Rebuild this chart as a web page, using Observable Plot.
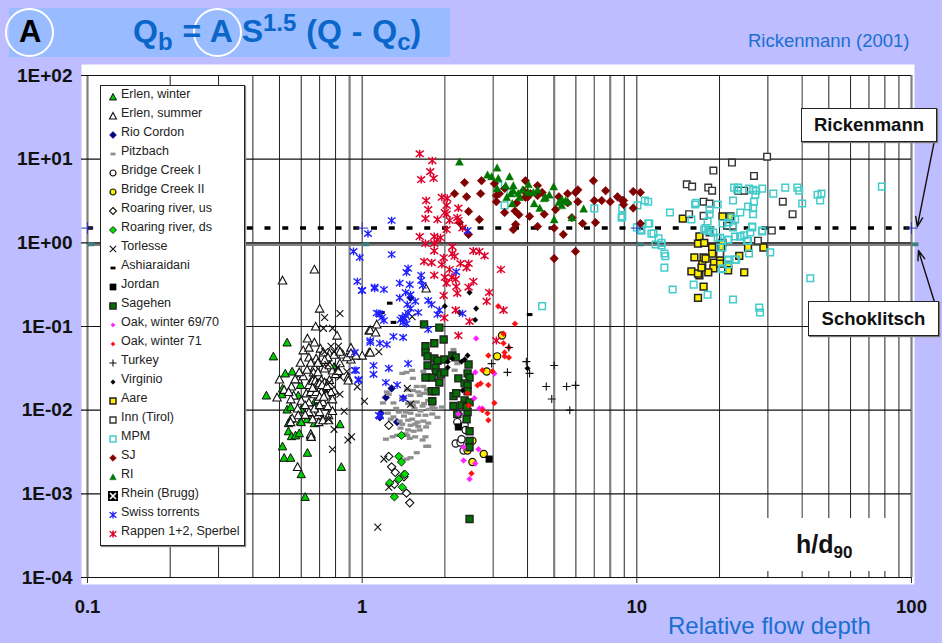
<!DOCTYPE html>
<html><head><meta charset="utf-8">
<script src="https://cdn.jsdelivr.net/npm/d3@7"></script>
<script src="https://cdn.jsdelivr.net/npm/@observablehq/plot@0.6"></script>
<style>
html,body{margin:0;padding:0;background:#BDBDFF;width:942px;height:643px;overflow:hidden;font-family:"Liberation Sans",Arial,sans-serif}
#chart{position:absolute;left:0;top:0}
.abs{position:absolute;white-space:nowrap}
.lbox{background:#fff;border:1px solid #222;box-shadow:1px 1px 1px #777;box-sizing:border-box;text-align:center;font-weight:bold;font-size:18.5px;color:#111}
.ring{position:absolute;border:2px solid #fff;border-radius:50%;box-sizing:border-box}
#legend{position:absolute;left:100px;top:85px;width:145px;height:461px;background:#fff;border:1px solid #222;box-shadow:1px 1px 1px #888;box-sizing:border-box}
.row{position:absolute;left:0;height:19px;line-height:19px;font-size:12.5px;color:#222;white-space:nowrap}
.row svg{position:absolute;left:5px}
.row span{position:absolute;left:20px;top:-1px}
</style></head><body>
<div id="chart"></div>
<script>
const erlenWinter=[[.533,.0645],[.475,.044],[.556,.029],[.525,.0275],[.513,.0182],[.448,.015],[.51,.0155],[.533,.0102],[.549,.0109],[.6,.0102],[.549,.0078],[.539,.007],[.596,.0074],[.539,.0056],[.553,.0049],[.572,.005],[.59,.0053],[.513,.0037],[.52,.0027],[.549,.0027],[.632,.0031],[.83,.0068],[.84,.0021],[.6,.00172],[.62,.00092],[.723,.0124],[.67,.007],[.71,.0082],[.67,.0124],[.69,.0209],[.596,.02],[.79,.033],[.695,.0182],[.585,.015],[.68,.019],[.7,.0225],[.72,.0175],[.66,.0165],[.63,.0078],[.6,.0072]];
const erlenSummer=[[.67,.48],[.513,.355],[.7,.164],[.677,.1],[.632,.072],[.67,.0645],[.61,.052],[.64,.056],[.705,.0545],[.723,.049],[.76,.0475],[.85,.0463],[.91,.056],[.91,.0404],[.64,.0427],[.596,.037],[.68,.0415],[.695,.037],[.67,.0324],[.81,.078],[1.06,.0896],[1.06,.049],[.5,.0233],[.553,.0192],[.585,.0233],[.65,.037],[.69,.037],[.665,.0283],[.66,.024],[.695,.026],[.705,.0209],[.65,.0209],[.563,.015],[.626,.0159],[.49,.0142],[.75,.0182],[.79,.0172],[.74,.0159],[.78,.0299],[.81,.0275],[.887,.0246],[.89,.0227],[.64,.0124],[.582,.0105],[.632,.01],[.66,.0092],[.585,.0087],[.69,.0087],[.695,.0072],[.72,.0076],[.755,.0087],[.755,.0076],[.556,.008],[.549,.0072],[.65,.005],[.582,.0021],[.64,.02],[.66,.0225],[.68,.019],[.7,.017],[.71,.023],[.72,.019],[.73,.0215],[.76,.023],[.77,.0165],[.78,.0135],[.69,.0135],[.67,.0155],[.65,.0165],[.72,.0125],[.74,.015],[.61,.0255],[.59,.0285],[.6,.013],[.55,.0135],[.62,.0115],[.64,.0095],[.68,.0108],[.7,.0095],[.75,.0112],[.78,.0098],[.52,.0175],[.54,.0165],[.57,.0235],[.63,.0305],[.69,.0285],[.73,.0315],[.76,.0345],[.8,.027],[.82,.0295],[.83,.0365],[.88,.043],[.79,.046],[.75,.043],[.83,.05],[.73,.04],[.91,.048],[1.13,.106],[1.07,.09],[1.12,.085],[1.07,.049],[1,.045],[1.71,.285],[.95,.045],[.65,.0052],[.652,.0048],[.675,.0225],[.685,.0205],[.69,.0195],[.7,.021],[.705,.0185],[.71,.0165],[.715,.02],[.68,.0165],[.66,.0185],[.7,.0145],[.725,.0145],[.745,.0195],[.67,.0105],[.7,.0115],[.66,.0078],[.62,.0088]];
const rioCordon=[[1.5,.22],[1.28,.0182],[1.22,.0142],[1.41,.0139],[1.17,.0092],[1.16,.0082],[1.34,.0072]];
const pitzbach=[[1.4,.0275],[1.45,.0283],[1.52,.0299],[1.67,.0291],[1.53,.024],[1.58,.0192],[1.67,.0192],[1.23,.0165],[1.25,.0155],[1.5,.015],[1.62,.015],[1.68,.0159],[1.19,.0122],[1.3,.0122],[1.5,.0124],[1.53,.0114],[1.66,.0112],[1.8,.0109],[1.95,.0109],[1.74,.0131],[1.24,.0092],[1.36,.0095],[1.44,.0095],[1.5,.0092],[1.6,.0087],[1.7,.0087],[1.8,.009],[1.88,.0082],[1.27,.0078],[1.37,.0074],[1.47,.0076],[1.52,.0078],[1.59,.0072],[1.67,.0074],[1.74,.007],[1.5,.0066],[1.6,.0064],[1.71,.0063],[1.47,.0058],[1.38,.0061],[1.22,.0045],[1.29,.0048],[1.34,.005],[1.46,.005],[1.49,.0046],[1.56,.0048],[1.66,.0044],[1.7,.0048],[1.71,.0037],[1.74,.0037],[1.58,.0031],[1.5,.0027],[1.45,.0026],[2.15,.053],[2.22,.036],[2.17,.03],[1.55,.0105],[1.42,.0085],[1.63,.0098],[1.56,.0068],[1.4,.0068],[1.44,.0052],[1.54,.0056],[1.62,.0058],[1.75,.0102],[1.84,.0105],[1.33,.0105],[1.3,.0083],[1.47,.012],[1.58,.0125],[1.68,.012],[1.6,.0165],[1.72,.0175],[1.82,.0125],[1.46,.0175],[1.53,.0172],[1.4,.0135]];
const bridgeI=[[2.22,.0072],[2.36,.0066],[2.38,.0058],[2.19,.004],[2.28,.0041],[2.3,.0045],[2.34,.0033]];
const bridgeII=[[3.23,.078],[3.1,.044],[2.84,.029],[2.52,.0043],[2.42,.0033],[2.77,.003],[2.52,.0024]];
const roaringUs=[[1.25,.0066],[1.25,.0028],[1.28,.0021],[1.32,.0018],[1.42,.0016],[1.31,.0013],[1.45,.00102],[1.49,.00078],[2.24,.009]];
const roaringDs=[[1.39,.005],[1.36,.0028],[1.39,.0024],[1.42,.0017],[1.36,.0015],[1.26,.00135],[1.4,.0012],[1.31,.00092],[1.43,.00172]];
const torlesse=[[.73,.128],[.83,.143],[.723,.095],[.78,.095],[.82,.058],[.77,.058],[.83,.0155],[1.02,.0128],[.96,.019],[.88,.029],[.86,.0097],[.755,.0078],[.79,.0059],[.915,.0048],[.887,.0044],[.78,.0034],[.75,.0352],[.81,.0324],[1.46,.0182],[1.5,.0118],[1.52,.131],[1.15,.05],[1.2,.0026],[1.25,.0012],[1.14,.0004],[.79,.05],[.73,.05],[.76,.0215],[.83,.025]];
const ashiaraidani=[[1.26,.19],[1.18,.147],[1.3,.112],[4.07,.139]];
const jordan=[[2.24,.0063],[2.9,.0026]];
const sagehen=[[1.68,.106],[1.91,.097],[1.98,.07],[1.7,.058],[1.7,.049],[1.83,.063],[1.73,.044],[1.83,.0415],[1.88,.039],[1.73,.0342],[1.85,.0324],[1.99,.0404],[2.13,.045],[2.19,.0427],[2.44,.0352],[1.86,.0283],[1.93,.0268],[1.99,.0283],[1.79,.0246],[1.7,.0246],[1.91,.0214],[2.24,.024],[2.42,.0275],[2.46,.0246],[2.36,.0209],[2.42,.0198],[1.79,.0168],[1.85,.0168],[2.15,.0147],[2.2,.0159],[2.42,.0168],[1.8,.0128],[2.36,.0131],[2.46,.0124],[2.15,.0112],[2.3,.0114],[2.42,.0095],[2.4,.0109],[2.4,.0078],[2.46,.0056],[2.46,.0043],[2.46,.0036],[2.46,.0005],[2.22,.009]];
const oak6970=[[2.6,.072],[2.58,.0283],[3.03,.0275],[2.56,.0139],[2.67,.0105],[2.24,.009],[2.34,.0036],[2.65,.0034],[2.34,.0025],[2.58,.0023],[2.46,.0015],[2.74,.0105]];
const oak71=[[3.13,.175],[3.6,.108],[3.27,.082],[3.27,.063],[3.42,.056],[2.88,.045],[3.3,.044],[3.42,.0427],[3.3,.049],[2.74,.0299],[2.98,.0291],[2.63,.0198],[2.7,.0209],[2.88,.02],[2.42,.0159],[3.03,.0122],[2.44,.0114],[2.74,.01],[2.86,.0092],[2.88,.0076],[2.5,.00175]];
const turkey=[[3.42,.056],[2.96,.036],[3.96,.038],[5,.0342],[3.38,.0283],[4.07,.0275],[4.68,.0192],[5.55,.0192],[5.98,.0198],[4.9,.0136],[5.7,.01]];
const virginio=[[2.46,.255],[2,.175],[2.6,.164],[2.26,.147],[2.58,.12],[2.42,.045],[2.13,.0415],[2.05,.038],[2.05,.0324],[2.36,.0404],[2.3,.038],[2.32,.0172],[4,.0316]];
const aare=[[14.7,1.95],[20.5,2.07],[21.9,2.07],[16.9,1.19],[16.7,.98],[17.6,1],[18.8,.88],[18.8,.745],[20.1,.745],[20.5,1],[20.3,.88],[28.9,.88],[25.4,.88],[23.6,.7],[16.2,.67],[17.5,.67],[17.3,.553],[19.1,.58],[20.1,.618],[17.8,.65],[21.5,.54],[21.5,.47],[19,.495],[18.2,.443],[15.8,.455],[16.9,.41],[16.7,.43],[24.6,.443],[17.5,.3],[16.7,.22],[17.2,.505],[20.1,.565]];
const inn=[[29.8,10.7],[22.2,9.1],[19,7.3],[26.7,6.3],[15.2,5],[15.9,4.7],[18.2,4.57],[18.8,4.2],[23.4,4.2],[24.6,4.2],[34,3.1],[17.5,3.1],[18.4,2.95],[36.9,2.2],[15.5,2.2],[17.5,2.1],[21.3,1.6],[22.4,1.6],[31,1.4],[27.6,1.06],[20.1,.745],[18.4,1.33]];
const mpm=[[3.3,2.8],[3.13,4.83],[3.47,4],[7,2.58],[8.85,2.58],[8.8,2],[10.05,2.8],[10,1.53],[10.3,1.44],[4.52,.175],[10.7,3.2],[11,3.1],[8.85,2.07],[13.2,2.3],[15.8,1.9],[16.4,3],[16.3,2.87],[19.7,2.87],[18.1,1.8],[18.4,2.2],[17.6,1.44],[18.2,1.4],[19,1.33],[19.7,1.15],[11,1.7],[11.1,1.7],[10.4,1.4],[11.3,1.29],[11.5,1.29],[12,1.13],[11.7,.955],[12.3,1],[12.3,.93],[12.6,.745],[12.7,.69],[12.6,.505],[13.5,.277],[16.1,.317],[18.1,.24],[22.4,.21],[27.9,.168],[28.1,.147],[42.8,.378],[78,4.7],[47,3.87],[45.5,3.75],[46.5,3.2],[40,2.95],[38.4,4.57],[39,4.2],[34.7,4.57],[31.4,3.87],[28.6,4.45],[27.2,4.2],[26.5,4.3],[25.6,4.45],[27,3.75],[23.4,4.57],[22.6,4.57],[23.2,4.3],[22.4,3.2],[26.7,3.1],[25.4,2.72],[26.5,2.6],[26.5,2.2],[23.8,2.3],[21.5,1.75],[22.1,2],[22.8,1.9],[26.3,1.57],[25.9,1.33],[28.6,1.4],[24.6,1.23],[23.8,1.19],[22.8,1.19],[21.5,1.09],[25.4,1.06],[20.5,.878],[25.6,.745],[30.6,.77],[23,.63],[21.5,.618],[21.5,.553],[20.5,.483],[18.4,2.5],[22.4,1.53],[20.5,1.7],[23.8,1.19],[17.8,1.5],[18.5,1.4],[20.1,1.15],[21.5,1.09],[20.1,.878],[25.2,1.06],[26.3,1.53],[28.6,1.37],[21.5,.63],[22.8,.63],[20.5,.495]];
const sj=[[2.36,5.25],[2.72,5.53],[2.17,3.87],[2.7,3.87],[2.4,3.55],[3.03,5.1],[3.16,3.87],[3.08,3.1],[3.3,2.3],[2.44,2.37],[2.26,1.75],[2.67,1.9],[2.44,1.26],[3.65,3],[3.6,2.4],[3.72,2.17],[3.62,1.66],[3.55,1.44],[3.93,5.53],[3.93,3.5],[4.35,4.83],[4.35,3.67],[4.52,4],[3.87,4.2],[4.07,2.07],[4.35,1.57],[4.6,2.2],[5.06,2.5],[5,1.5],[5.4,1.26],[5.2,3.55],[5.6,3.87],[5.6,3],[5.98,4],[6.1,4.3],[6.1,3.1],[6.95,5.53],[7,3.2],[7.45,3.2],[7.7,4.2],[8,3.1],[8.5,3.55],[8.85,3.2],[8.95,2.87],[9.7,4.1],[9.7,2.6],[5.8,2],[6.35,1.7],[7.07,1.75],[5,.65],[5.98,.79],[3.08,3.67],[3.3,4.45],[4,3.5],[4.1,3.87],[10.3,4],[8.95,3.2],[10.3,1.7]];
const ri=[[2.26,9.3],[3.1,7.9],[2.86,6.5],[2.96,6.2],[3.13,5.9],[3.44,6.2],[3.33,4.83],[3.55,4.83],[3.55,4.2],[3.47,3.87],[3.1,4.45],[3.36,3.5],[3.52,2.95],[3.74,3.5],[3.84,4.3],[4.03,5],[4.03,4],[4.2,4],[4.35,4.3],[4.23,2.95],[4.43,2.6],[4.65,3.5],[4.8,3.75],[4.98,4.7],[5.33,3.3],[5.33,2.8],[5.6,3.1],[6.4,2.55],[5,1.9],[5.8,2],[5.5,3.2],[5.2,3.05],[4.6,3.4],[3.7,3.9]];
const swiss=[[1.05,1.29],[1.28,1.85],[1.28,.725],[1.47,.495],[1.45,.443],[1.64,.41],[1.64,.355],[1.66,.31],[1.37,.33],[1.49,.317],[1.11,.285],[1.2,.277],[1,.27],[1.44,.255],[1.37,.22],[1.5,.24],[1.56,.2],[1.46,.183],[1.74,.204],[1.79,.183],[1.5,.164],[1.6,.147],[1.91,.157],[1.88,.139],[1.16,.139],[1.2,.118],[1.44,.135],[1.4,.127],[1.41,.112],[1.74,.092],[1.3,.076],[1.41,.074],[1.07,.068],[2.42,1.4],[2.2,.45],[2.32,.143],[1.16,.063],[1.23,.061],[1.1,.0342],[1.1,.0268],[1.25,.0316],[1.47,.036],[1.22,.0214],[1.34,.02],[1.41,.0139],[1.16,.0085],[.93,.79],[.98,.667],[.96,.345],[.997,.27],[1.11,.295],[1.15,.143],[.94,.049],[.94,.03],[.97,.0233],[1.15,.0087],[.95,.0299],[.97,.0227],[1.07,.0645],[1.42,.125],[1.38,.12],[1.45,.108],[1.13,.145],[1.18,.128],[1.47,.145]];
const rappen=[[1.62,11.6],[1.8,9.6],[1.77,7.1],[1.64,5.7],[1.82,5.9],[1.71,3.2],[1.74,2.5],[1.95,3.5],[2.04,3.4],[2.03,2.8],[2,2.3],[2.24,2.6],[1.7,1.95],[1.88,1.9],[2.03,2.2],[2.08,1.85],[2.22,2],[2.24,1.85],[2.03,1.44],[2.32,1.5],[1.62,1.19],[1.83,1.19],[1.93,1.15],[1.88,1.09],[1.7,.98],[1.83,.98],[1.83,.8],[2.13,.9],[2.54,.8],[2.67,.79],[2.79,.7],[2.13,.745],[2.17,.69],[1.98,.665],[1.68,.6],[1.79,.58],[1.95,.55],[2.28,.565],[2.44,.565],[2.4,.505],[3.2,.48],[2.08,.48],[1.83,.41],[2,.387],[2.12,.387],[2.19,.366],[2.03,.33],[2.54,.345],[2.44,.295],[2.2,.3],[2.22,.25],[1.98,.235],[2.9,.255],[2.84,.2],[2.19,.157],[3.27,.157],[1.99,.127],[2.46,.115],[2.24,.078],[3.08,.068]];
const decades=[.0001,.001,.01,.1,1,10,100];
const xLabels=[.1,1,10,100];
const thickLines=[.1,.9,5,8,100];
const midLines=[2,3,7,40];
const darkLines=[.2,.3,.4,.5,.6,.7,.8,1,4,6,9,10,20,30,50,60,70,80,90];
const rickenmann=1.5, schoklitsch=.96;
const labelBoxes=[{name:"Rickenmann",x1:121,y1:16.2,x2:105,y2:1.56},{name:"Schoklitsch",x1:121,y1:.2,x2:106,y2:.81}];

const sym=f=>({draw(c,size){f(c,Math.sqrt(size/Math.PI))}});
const tri=sym((c,r)=>{c.moveTo(0,-r);c.lineTo(r,r*.85);c.lineTo(-r,r*.85);c.closePath()});
const dia=sym((c,r)=>{c.moveTo(0,-r);c.lineTo(r,0);c.lineTo(0,r);c.lineTo(-r,0);c.closePath()});
const sq=sym((c,r)=>{c.rect(-r,-r,2*r,2*r)});
const cir=sym((c,r)=>{c.moveTo(r,0);c.arc(0,0,r,0,2*Math.PI);c.closePath()});
const dash=sym((c,r)=>{c.rect(-r,-r*.55,2*r,r*1.1)});
const cross=sym((c,r)=>{c.moveTo(-r,-r);c.lineTo(r,r);c.moveTo(r,-r);c.lineTo(-r,r)});
const plus=sym((c,r)=>{c.moveTo(-r,0);c.lineTo(r,0);c.moveTo(0,-r);c.lineTo(0,r)});
const star=sym((c,r)=>{c.moveTo(-r,-r*.8);c.lineTo(r,r*.8);c.moveTo(r,-r*.8);c.lineTo(-r,r*.8);c.moveTo(0,-r);c.lineTo(0,r)});
const rheinSym=sym((c,r)=>{c.rect(-r,-r,2*r,2*r)});

const series=[
["Erlen, winter",erlenWinter,tri,4.2,"#00CC00","#111",1,3.5],
["Erlen, summer",erlenSummer,tri,4.2,"#fff","#111",1.1,3.5],
["Rio Cordon",rioCordon,dia,3.8,"#000080","#000080",.5,3.5],
["Pitzbach",pitzbach,dash,3,"#8f8f8f","none",0,2.5],
["Bridge Creek I",bridgeI,cir,3.6,"#fff","#111",1.2,3],
["Bridge Creek II",bridgeII,cir,3.6,"#FFEE00","#111",1.2,3],
["Roaring river, us",roaringUs,dia,4.1,"#fff","#111",1.1,3.5],
["Roaring river, ds",roaringDs,dia,4.1,"#00E000","#111",.9,3.5],
["Torlesse",torlesse,cross,3.4,"none","#111",1.1,3.1],
["Ashiaraidani",ashiaraidani,dash,2.8,"#000","none",0,2.5],
["Jordan",jordan,sq,3.3,"#000","#000",.5,3.1],
["Sagehen",sagehen,sq,3.5,"#007000","#222",1.4,3.1],
["Oak, winter 69/70",oak6970,dia,3,"#FF22FF","#FF22FF",.3,2.2],
["Oak, winter 71",oak71,dia,3,"#FF1111","#FF1111",.3,2.2],
["Turkey",turkey,plus,4,"none","#111",1.1,3.6],
["Virginio",virginio,dia,2.9,"#000","#000",.2,2.4],
["Aare",aare,sq,3.4,"#FFEE00","#222",1.5,3],
["Inn (Tirol)",inn,sq,3.3,"#fff","#333",1.4,3],
["MPM",mpm,sq,3.3,"none","#44CCCC",1.5,3],
["SJ",sj,dia,4.2,"#800000","#800000",.7,3.3],
["RI",ri,tri,4,"#007700","#007700",.4,3.3],
["Swiss torrents",swiss,star,3.8,"none","#2020FF",1.35,3.4],
["Rappen 1+2, Sperbel",rappen,star,4,"none","#E0002A",1.45,3.4]
];
const expLabel=d=>{const e=Math.round(Math.log10(d));return "1E"+(e<0?"-":"+")+String(Math.abs(e)).padStart(2,"0")};

const chart=Plot.plot({
  width:942,height:643,marginLeft:87,marginRight:31,marginTop:75,marginBottom:66,
  style:{background:"none",fontFamily:"Liberation Sans, Arial, sans-serif",overflow:"visible"},
  x:{type:"log",domain:[.1,100],axis:null},
  y:{type:"log",domain:[.0001,100],axis:null},
  marks:[
    Plot.frame({fill:"#fff",stroke:"none",insetLeft:-6,insetRight:-3,insetTop:-11,insetBottom:-7}),
    Plot.ruleX(darkLines,{stroke:"#222",strokeWidth:1}),
    Plot.ruleX(midLines,{stroke:"#666",strokeWidth:1.3}),
    Plot.ruleX(thickLines,{stroke:"#808080",strokeWidth:2.2}),
    Plot.ruleY([schoklitsch],{stroke:"#808080",strokeWidth:3.2}),
    Plot.ruleY(decades,{stroke:"#111",strokeWidth:1.1,insetLeft:-6}),
    Plot.ruleY([rickenmann],{stroke:"#000",strokeWidth:3.5,strokeDasharray:"6,11.75"}),
    ...series.map(([n,data,symbol,r,fill,stroke,sw])=>Plot.dot(data,{x:d=>d[0],y:d=>d[1],symbol:()=>symbol,r,fill,stroke,strokeWidth:sw})),
    Plot.dot(xLabels,{x:d=>d,y:()=>rickenmann,symbol:()=>plus,r:6,stroke:"#3333BB",strokeWidth:1}),
    Plot.dot(xLabels,{x:d=>d,y:()=>schoklitsch,symbol:()=>dash,r:3.5,fill:"#3f7f7f",stroke:"none",dx:3.5}),
    Plot.axisX({ticks:xLabels,tickFormat:d=>String(d),tickSize:6,tickPadding:16,fontSize:18.5,fontWeight:"bold",fill:"#111",stroke:"#333"}),
    Plot.axisY({ticks:decades,tickFormat:expLabel,tickSize:0,tickPadding:15,fontSize:19,fontWeight:"bold",fill:"#111",label:null}),
    Plot.arrow(labelBoxes,{x1:"x1",y1:"y1",x2:"x2",y2:"y2",bend:0,stroke:"#111",strokeWidth:1.4,headLength:11,headAngle:40})
  ]
});
document.getElementById("chart").appendChild(chart);

function add(html){const t=document.createElement("div");t.innerHTML=html;while(t.firstChild)document.body.appendChild(t.firstChild)}
add(`<div class="abs" style="left:9px;top:8px;width:441px;height:49px;background:#99BBFF"></div>
<div class="ring" style="left:5px;top:8px;width:49px;height:49px"></div>
<div class="abs" style="left:19px;top:15px;font-size:31px;font-weight:bold;color:#000;line-height:34px">A</div>
<div class="ring" style="left:193px;top:8px;width:49px;height:49px"></div>
<div class="abs" id="formula" style="left:133px;top:13px;font-size:32px;font-weight:bold;color:#0A66C8;line-height:36px;word-spacing:1px">Q<sub style="font-size:24px;vertical-align:-8px;line-height:0">b</sub> = A S<sup style="font-size:24px;vertical-align:11px;line-height:0">1.5</sup> (Q - Q<sub style="font-size:24px;vertical-align:-8px;line-height:0">c</sub>)</div>
<div class="abs" style="left:748px;top:30px;font-size:18.5px;color:#1A6FD0">Rickenmann (2001)</div>
<div class="abs lbox" style="left:801px;top:108px;width:136px;height:34px;line-height:32px">Rickenmann</div>
<div class="abs lbox" style="left:808px;top:301px;width:131px;height:35px;line-height:33px">Schoklitsch</div>
<div class="abs" style="left:745px;top:518px;width:143px;height:53px;background:#fff"></div>
<div class="abs" style="left:796px;top:530px;font-size:25px;font-weight:bold;color:#111;line-height:28px">h/d<sub style="font-size:17px;vertical-align:-5px;line-height:0">90</sub></div>
<div class="abs" style="left:668px;top:612px;font-size:24px;color:#1A6FD0;line-height:27px">Relative flow depth</div>`);

const rows=series.slice();
rows.splice(21,0,["Rhein (Brugg)",null,rheinSym,5,"#000","#000",0,5]);
const lg=document.createElement("div");lg.id="legend";
rows.forEach((s,i)=>{
  const [name,,symbol,,fill,stroke,sw,lr]=s;
  const p=d3.path();symbol.draw(p,Math.PI*lr*lr);
  const extra=name.startsWith("Rhein")?'<path d="M-3-3L3 3M3-3L-3 3" stroke="#fff" stroke-width="1.6"/>':"";
  const row=document.createElement("div");row.className="row";row.style.top=(i*19)+"px";
  row.innerHTML=`<svg width="14" height="16" viewBox="-7 -8 14 16" style="top:3px"><path d="${p}" fill="${fill}" stroke="${stroke}" stroke-width="${sw}"/>${extra}</svg><span>${name}</span>`;
  lg.appendChild(row);
});
document.body.appendChild(lg);
</script>
</body></html>
